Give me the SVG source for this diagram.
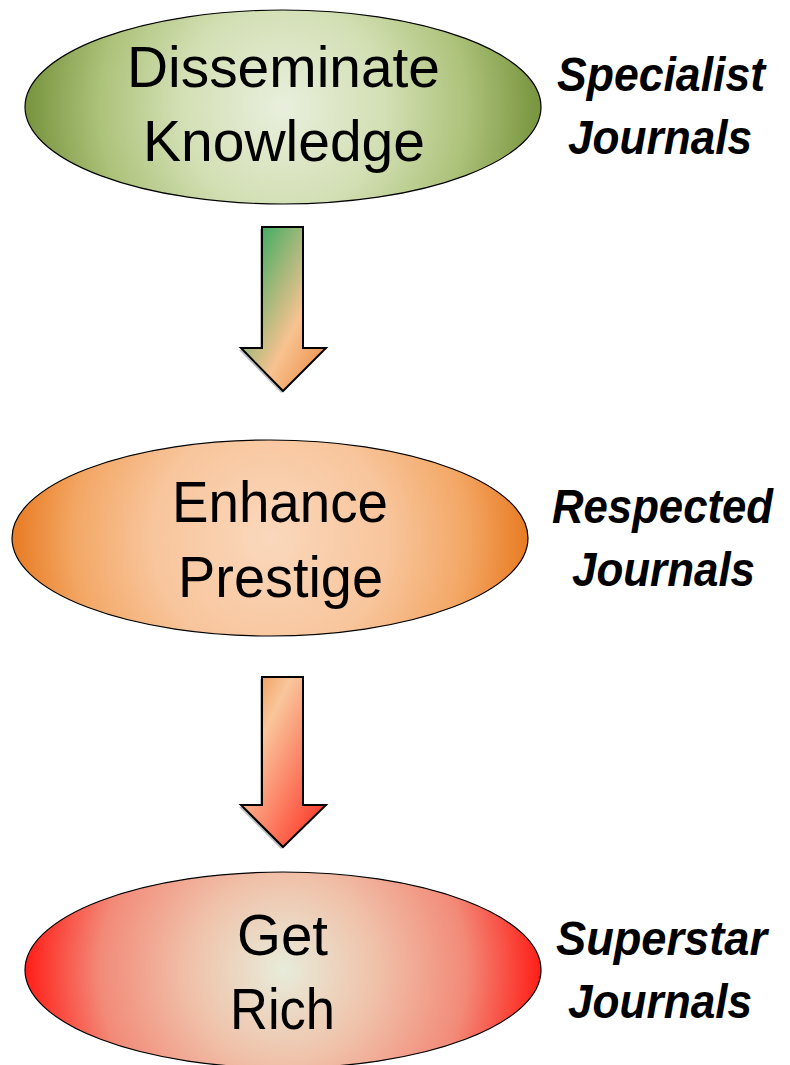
<svg xmlns="http://www.w3.org/2000/svg" width="790" height="1065" viewBox="0 0 790 1065">
<defs>
<radialGradient id="gGreen" gradientUnits="userSpaceOnUse" cx="283" cy="107" r="262">
<stop offset="0" stop-color="#e9efdd"/>
<stop offset="0.4" stop-color="#d2dfb3"/>
<stop offset="0.7" stop-color="#adc27a"/>
<stop offset="1" stop-color="#74913a"/>
</radialGradient>
<radialGradient id="gOrange" gradientUnits="userSpaceOnUse" cx="270" cy="538" r="262">
<stop offset="0" stop-color="#fad8bc"/>
<stop offset="0.45" stop-color="#f8c59c"/>
<stop offset="0.75" stop-color="#f3a765"/>
<stop offset="1" stop-color="#e7781e"/>
</radialGradient>
<radialGradient id="gRed" gradientUnits="userSpaceOnUse" cx="283" cy="970" r="262">
<stop offset="0" stop-color="#e7ecda"/>
<stop offset="0.35" stop-color="#f0c2aa"/>
<stop offset="0.7" stop-color="#f28a78"/>
<stop offset="1" stop-color="#ff1812"/>
</radialGradient>
<linearGradient id="gArrow1" x1="0" y1="0" x2="1" y2="1">
<stop offset="0" stop-color="#17a858"/>
<stop offset="0.62" stop-color="#f8c290"/>
<stop offset="1" stop-color="#e8843a"/>
</linearGradient>
<linearGradient id="gArrow2" x1="0" y1="0" x2="1" y2="1">
<stop offset="0" stop-color="#ea8c3e"/>
<stop offset="0.3" stop-color="#f9c69c"/>
<stop offset="1" stop-color="#ff2418"/>
</linearGradient>
</defs>
<style>
.node { stroke: #000; stroke-width: 1.2; }
.arrow { stroke: #000; stroke-width: 2; stroke-linejoin: miter; }
.shadow { fill: #000; opacity: 0.25; }
.main { font-family: "Liberation Sans", Arial, sans-serif; font-size: 57px; fill: #000; }
.label { font-family: "Liberation Sans", Arial, sans-serif; font-size: 48px; font-weight: bold; font-style: italic; fill: #000; }
</style>
<rect width="790" height="1065" fill="#fff"/>
<g id="connectors">
<path class="shadow" d="M260,229 L301,229 L301,350 L324,350 L281,393 L239,350 L260,350 Z"/>
<path class="arrow" fill="url(#gArrow1)" d="M262,227 L303,227 L303,348 L326,348 L283,391 L241,348 L262,348 Z"/>
<path class="shadow" d="M260,679 L301,679 L301,807 L324,807 L281,849 L239,807 L260,807 Z"/>
<path class="arrow" fill="url(#gArrow2)" d="M262,677 L303,677 L303,805 L326,805 L283,847 L241,805 L262,805 Z"/>
</g>
<g id="node-disseminate">
<ellipse class="node" cx="283" cy="107" rx="258" ry="97" fill="url(#gGreen)"/>
<text class="main" x="127" y="87" textLength="313" lengthAdjust="spacingAndGlyphs">Disseminate</text>
<text class="main" x="143" y="161" textLength="282" lengthAdjust="spacingAndGlyphs">Knowledge</text>
</g>
<g id="label-specialist">
<text class="label" x="557" y="91" textLength="208" lengthAdjust="spacingAndGlyphs">Specialist</text>
<text class="label" x="568" y="154" textLength="184" lengthAdjust="spacingAndGlyphs">Journals</text>
</g>
<g id="node-prestige">
<ellipse class="node" cx="270" cy="538" rx="258" ry="98" fill="url(#gOrange)"/>
<text class="main" x="172" y="522" textLength="216" lengthAdjust="spacingAndGlyphs">Enhance</text>
<text class="main" x="178" y="597" textLength="205" lengthAdjust="spacingAndGlyphs">Prestige</text>
</g>
<g id="label-respected">
<text class="label" x="552" y="523" textLength="221" lengthAdjust="spacingAndGlyphs">Respected</text>
<text class="label" x="572" y="586" textLength="183" lengthAdjust="spacingAndGlyphs">Journals</text>
</g>
<g id="node-rich">
<ellipse class="node" cx="283" cy="970" rx="258" ry="98" fill="url(#gRed)"/>
<text class="main" x="237" y="955" textLength="91" lengthAdjust="spacingAndGlyphs">Get</text>
<text class="main" x="230" y="1029" textLength="105" lengthAdjust="spacingAndGlyphs">Rich</text>
</g>
<g id="label-superstar">
<text class="label" x="556" y="955" textLength="211" lengthAdjust="spacingAndGlyphs">Superstar</text>
<text class="label" x="568" y="1018" textLength="184" lengthAdjust="spacingAndGlyphs">Journals</text>
</g>
</svg>
